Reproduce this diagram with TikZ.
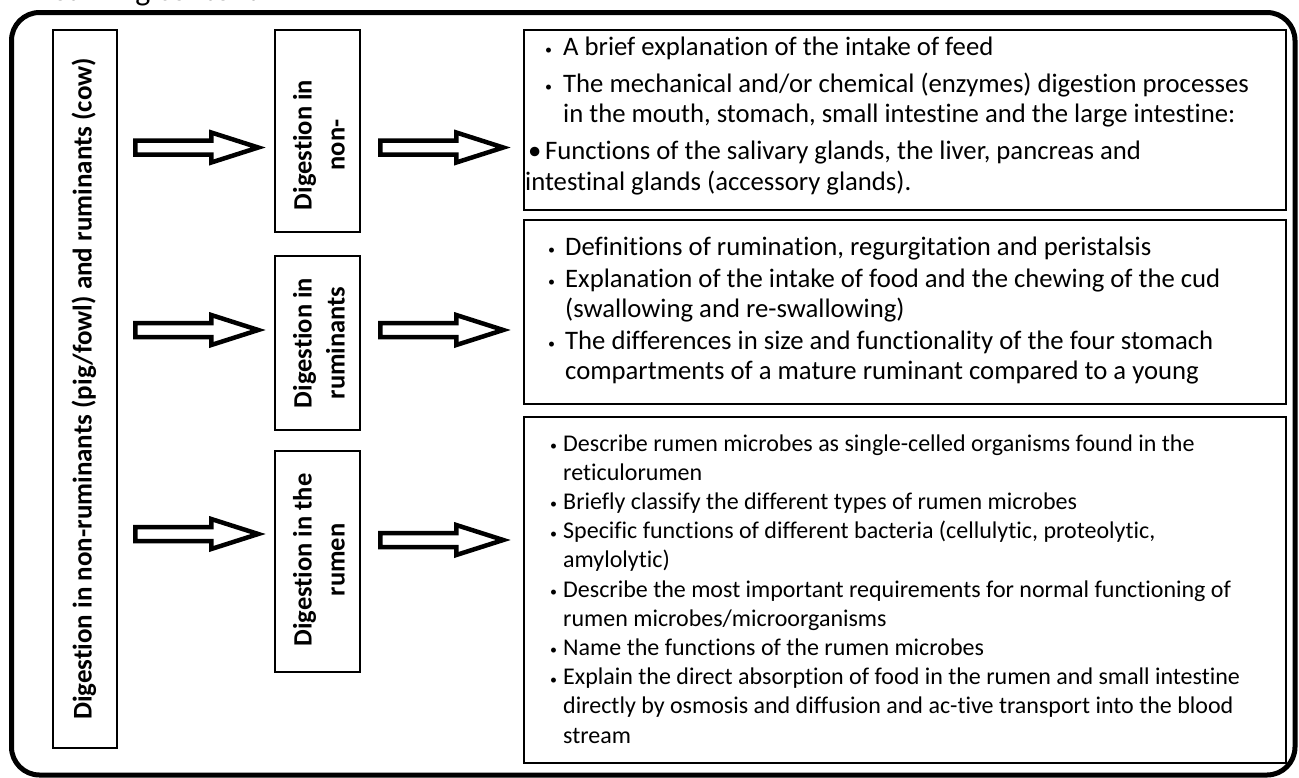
\documentclass[tikz,border=0pt]{standalone}
\usepackage{fontspec}
\setmainfont{Carlito}[Ligatures=NoCommon]
\usetikzlibrary{calc}
% small list bullet, set in a box of the given width
\newcommand\bul[1]{\makebox[#1][l]{\raisebox{0.5pt}{\fontsize{14}{14}\selectfont •}}}
% hollow block arrow: source node, target node, row y, gap after source, gap before target
\newcommand\fatarrow[5]{%
  \draw[fatarrow] let \p1=(#1.east), \p2=(#2.west), \p3=(0,#3) in
    (\x1+#4,\y3+7pt) -- (\x2-#5-47pt,\y3+7pt) -- (\x2-#5-47pt,\y3+15pt) --
    (\x2-#5,\y3) -- (\x2-#5-47pt,\y3-15pt) -- (\x2-#5-47pt,\y3-7pt) --
    (\x1+#4,\y3-7pt) -- cycle;}
\begin{document}
\begin{tikzpicture}[x=1pt,y=-1pt,
  frame/.style={draw, line width=5pt, rounded corners=28pt},
  topic/.style={draw, line width=1.5pt, inner sep=0pt},
  vlabel/.style={font=\bfseries\fontsize{26.5}{33}\selectfont, rotate=90, align=center, inner sep=0pt},
  detail/.style={anchor=base west, inner sep=0pt},
  fatarrow/.style={draw, line width=4.5pt, line join=miter, fill=white}]
\useasboundingbox (0,0) rectangle (1299,777);

% heading, mostly above the page
\node[anchor=base east, inner sep=0pt, font=\fontsize{32}{32}\selectfont] (title) at (258,0.5) {Learning content};

% outer frame
\draw[frame] (11.5,12.5) rectangle (1295,775);

% main topic
\node[topic, minimum width=64pt, minimum height=718pt] (L) at (85,389) {};
\node[vlabel, font=\bfseries\fontsize{27}{33}\selectfont] (Lt) at (84,389) {Digestion in non-ruminants (pig/fowl) and ruminants (cow)};

% sub-topics
\node[topic, minimum width=85pt, minimum height=202pt] (M1) at (317.5,131) {};
\node[vlabel] (M1t) at (319,145) {Digestion in\\non-};
\node[topic, minimum width=85pt, minimum height=174pt] (M2) at (317.5,343) {};
\node[vlabel] (M2t) at (319,343) {Digestion in\\ruminants};
\node[topic, minimum width=85pt, minimum height=221pt] (M3) at (317.5,561.5) {};
\node[vlabel] (M3t) at (319,560) {Digestion in the\\rumen};

% content boxes
\node[topic, minimum width=762pt, minimum height=180pt] (R1) at (905,120) {};
\node[topic, minimum width=762pt, minimum height=184pt] (R2) at (905,312) {};
\node[topic, minimum width=762pt, minimum height=346pt] (R3) at (905,590) {};

\node[detail] (R1t) at (525,55) {\parbox[t]{1000pt}{\fontsize{26.7}{30}\selectfont
  \hspace*{20pt}\bul{18pt}A brief explanation of the intake of feed\\[7pt]
  \hspace*{20pt}\bul{18pt}The mechanical and/or chemical (enzymes) digestion processes\\
  \hspace*{38pt}in the mouth, stomach, small intestine and the large intestine:\\[7pt]
  \hspace*{3pt}\makebox[17pt][l]{•}Functions of the salivary glands, the liver, pancreas and\\[1pt]
  intestinal glands (accessory glands).}};

\node[detail] (R2t) at (548,255) {\parbox[t]{1000pt}{\fontsize{26.7}{30}\selectfont
  \bul{17pt}Definitions of rumination, regurgitation and peristalsis\\[2pt]
  \bul{17pt}Explanation of the intake of food and the chewing of the cud\\
  \hspace*{17pt}(swallowing and re-swallowing)\\[2pt]
  \bul{17pt}The differences in size and functionality of the four stomach\\
  \hspace*{17pt}compartments of a mature ruminant compared to a young}};

\node[detail] (R3t) at (550,451) {\parbox[t]{1000pt}{\fontsize{24}{29.2}\selectfont
  \bul{13pt}Describe rumen microbes as single-celled organisms found in the\\
  \hspace*{13pt}reticulorumen\\
  \bul{13pt}Briefly classify the different types of rumen microbes\\
  \bul{13pt}Specific functions of different bacteria (cellulytic, proteolytic,\\
  \hspace*{13pt}amylolytic)\\
  \bul{13pt}Describe the most important requirements for normal functioning of\\
  \hspace*{13pt}rumen microbes/microorganisms\\
  \bul{13pt}Name the functions of the rumen microbes\\
  \bul{13pt}Explain the direct absorption of food in the rumen and small intestine\\
  \hspace*{13pt}directly by osmosis and diffusion and ac-tive transport into the blood\\
  \hspace*{13pt}stream}};

% connectors
\fatarrow{L}{M1}{147.5}{17.5pt}{16pt}
\fatarrow{L}{M2}{330}{17.5pt}{16pt}
\fatarrow{L}{M3}{534}{17.5pt}{16pt}
\fatarrow{M1}{R1}{147.5}{19.5pt}{20pt}
\fatarrow{M2}{R2}{330}{19.5pt}{20pt}
\fatarrow{M3}{R3}{540}{19.5pt}{20pt}
\end{tikzpicture}
\end{document}
